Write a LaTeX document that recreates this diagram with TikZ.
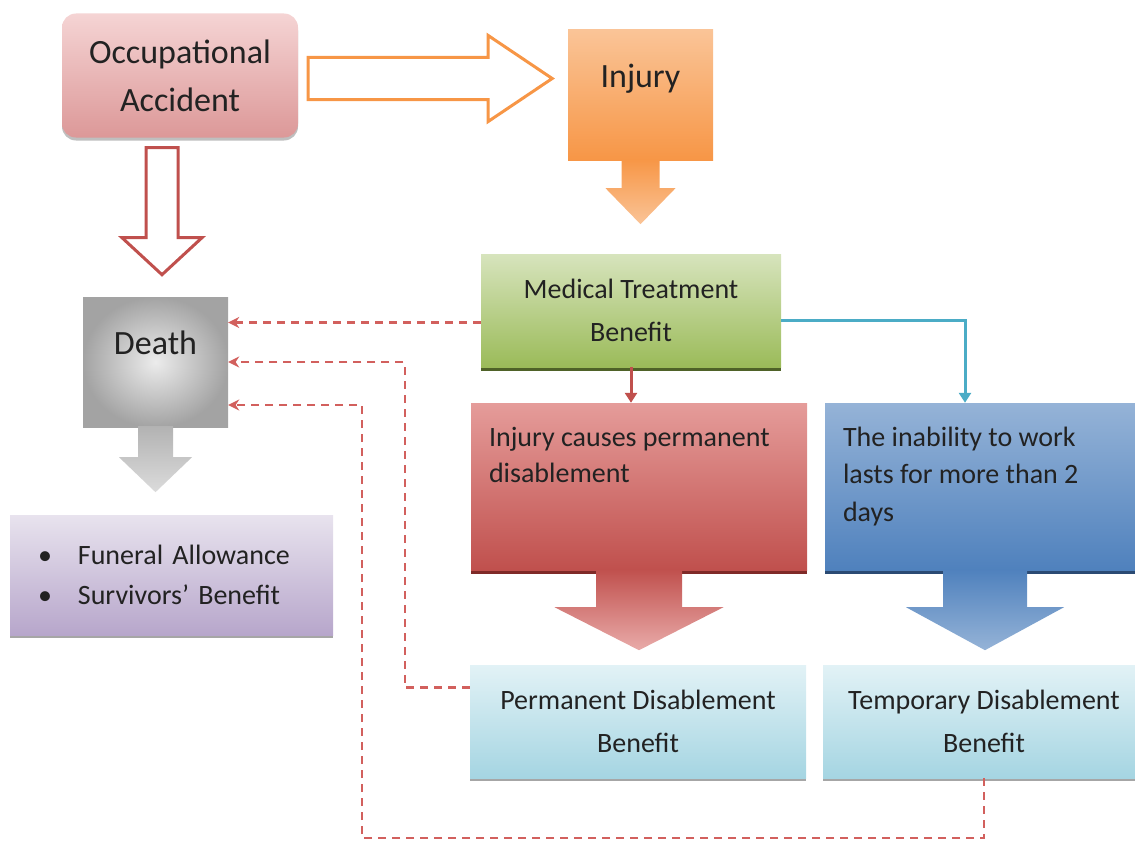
\documentclass[tikz,border=0pt]{standalone}
\usepackage{fontspec}
\setmainfont{Carlito}
\usepackage{tikz}
\usetikzlibrary{arrows.meta,shadows}
\definecolor{ink}{HTML}{222222}
\definecolor{occtop}{HTML}{F5D4D4}
\definecolor{occbot}{HTML}{DC9898}
\definecolor{injtop}{HTML}{FAC497}
\definecolor{injbot}{HTML}{F79646}
\definecolor{medtop}{HTML}{D7E4BD}
\definecolor{medbot}{HTML}{9BBB59}
\definecolor{medshd}{HTML}{4F6228}
\definecolor{redtop}{HTML}{E59C9A}
\definecolor{redbot}{HTML}{C0504D}
\definecolor{redshd}{HTML}{7F2A28}
\definecolor{blutop}{HTML}{95B3D7}
\definecolor{blubot}{HTML}{4F81BD}
\definecolor{blushd}{HTML}{2B4A73}
\definecolor{bentop}{HTML}{E2F2F6}
\definecolor{benbot}{HTML}{A5D5E2}
\definecolor{lavtop}{HTML}{E8E3EE}
\definecolor{lavbot}{HTML}{B7A6CB}
\definecolor{dashred}{HTML}{D2605D}
\definecolor{linkblue}{HTML}{4BACC6}
\tikzset{
  box/.style      = {shape=rectangle, inner sep=0pt, align=center, text=ink,
                     font=\fontsize{28}{43}\selectfont},
  bigbox/.style   = {box, font=\fontsize{34}{48}\selectfont},
  occbox/.style   = {bigbox, rounded corners=14pt, top color=occtop, bottom color=occbot,
                     drop shadow={shadow xshift=0pt, shadow yshift=-3pt, fill=black!25, opacity=1}},
  injbox/.style   = {bigbox, top color=injtop, bottom color=injbot, text depth=38pt},
  deathbox/.style = {bigbox, inner color=gray!15, outer color=gray!72, text depth=38pt},
  medbox/.style   = {box, top color=medtop, bottom color=medbot,
                     drop shadow={shadow xshift=0pt, shadow yshift=-4pt, fill=medshd, opacity=1}},
  causebox/.style = {box, top color=redtop, bottom color=redbot,
                     drop shadow={shadow xshift=0pt, shadow yshift=-4pt, fill=redshd, opacity=1}},
  lastbox/.style  = {box, top color=blutop, bottom color=blubot,
                     drop shadow={shadow xshift=0pt, shadow yshift=-4pt, fill=blushd, opacity=1}},
  benbox/.style   = {box, top color=bentop, bottom color=benbot,
                     drop shadow={shadow xshift=0pt, shadow yshift=-3pt, fill=black!35, opacity=1}},
  listbox/.style  = {box, align=left, text width=267pt, inner xsep=28pt,
                     font=\fontsize{28}{40}\selectfont, top color=lavtop, bottom color=lavbot,
                     drop shadow={shadow xshift=0pt, shadow yshift=-3pt, fill=black!35, opacity=1}},
  boxtext/.style  = {inner sep=0pt, align=left, text=ink, font=\fontsize{28}{36}\selectfont},
  hollow/.style   = {draw=#1, line width=3pt, fill=white, line join=miter},
  dashlink/.style = {draw=dashred, line width=2.3pt, dash pattern=on 8pt off 6pt,
                     -{Stealth[length=11pt,width=11pt]}},
  medlink/.style  = {draw=#1, line width=3pt, -{Triangle[length=10pt,width=12pt]}}
}

\begin{document}
\begin{tikzpicture}[x=1pt,y=-1pt]
\useasboundingbox (0,0) rectangle (1135,843);

% top row
\node[occbox, minimum width=236pt, minimum height=124pt] (occ) at (180,75.5) {Occupational\\Accident};
\node[injbox, minimum width=145pt, minimum height=130pt] (injury) at (640.5,95) {Injury};
\shade[top color=injbot, bottom color=injtop]
  ([shift={(-19,-1)}]injury.south) -- ++(0,29) -- ++(-16,0) -- ++(35,36)
  -- ++(35,-36) -- ++(-16,0) -- ++(0,-29) -- cycle;

% hollow arrows out of the accident
\draw[hollow=injbot] ([shift={(10,-18)}]occ.east) -- ++(180,0) -- ++(0,-22) -- ++(64,43)
  -- ++(-64,43) -- ++(0,-22) -- ++(-180,0) -- cycle;
\draw[hollow=redbot] ([shift={(-34,10)}]occ.south) -- ++(0,90) -- ++(-24,0) -- ++(40,37)
  -- ++(40,-37) -- ++(-24,0) -- ++(0,-90) -- cycle;

% death side
\node[deathbox, minimum width=145pt, minimum height=130pt] (death) at (155.5,362) {Death};
\shade[top color=gray!60, bottom color=gray!28]
  ([shift={(-17.5,-1)}]death.south) -- ++(0,31) -- ++(-19,0) -- ++(36.5,35)
  -- ++(36.5,-35) -- ++(-19,0) -- ++(0,-31) -- cycle;
\node[listbox, minimum height=120pt] (funeral) at (171.5,575)
  {\textbullet\hspace{26pt}Funeral Allowance\\\textbullet\hspace{26pt}Survivors’ Benefit};

% treatment and disablement
\node[medbox, minimum width=300pt, minimum height=113pt] (mtb) at (631,310.5) {Medical Treatment\\Benefit};
\node[causebox, minimum width=336pt, minimum height=167pt] (cause) at (639,486.5) {};
\node[boxtext, anchor=north west] (causetxt) at ([shift={(18,24)}]cause.north west)
  {Injury causes permanent\\disablement};
\node[lastbox, minimum width=320pt, minimum height=167pt] (lasts) at (985,486.5) {};
\node[boxtext, anchor=north west, font=\fontsize{28}{37.5}\selectfont] (laststxt)
  at ([shift={(18,24)}]lasts.north west) {The inability to work\\lasts for more than 2\\days};
\shade[top color=redbot, bottom color=redtop!85]
  ([shift={(-43,-1)}]cause.south) -- ++(0,38) -- ++(-41.5,0) -- ++(84.5,43)
  -- ++(84.5,-43) -- ++(-41.5,0) -- ++(0,-38) -- cycle;
\shade[top color=blubot, bottom color=blutop]
  ([shift={(-42,-1)}]lasts.south) -- ++(0,38) -- ++(-37,0) -- ++(79,43)
  -- ++(79,-43) -- ++(-37,0) -- ++(0,-38) -- cycle;
\node[benbox, minimum width=336pt, minimum height=113pt] (perm) at (638,721.5) {Permanent Disablement\\Benefit};
\node[benbox, minimum width=322pt, minimum height=113pt] (temp) at (984,721.5) {Temporary Disablement\\Benefit};

\draw[medlink=redbot] (mtb.south) -- (mtb.south |- cause.north);
\draw[medlink=linkblue] ([yshift=-10pt]mtb.east) -| ([xshift=-20pt]lasts.north);

% dashed links back to death
\coordinate (m1) at ([yshift=-12pt]mtb.west);
\coordinate (p1) at ([yshift=34pt]perm.west);
\coordinate (d3) at ([yshift=-43pt]death.east);
\draw[dashlink] (m1) -- (death.east |- m1);
\draw[dashlink] (p1) -- ++(-65,0) |- (death.east);
\draw[dashlink] (temp.south) -- ++(0,60) -| ([xshift=134pt]d3) -- (d3);
\end{tikzpicture}
\end{document}
